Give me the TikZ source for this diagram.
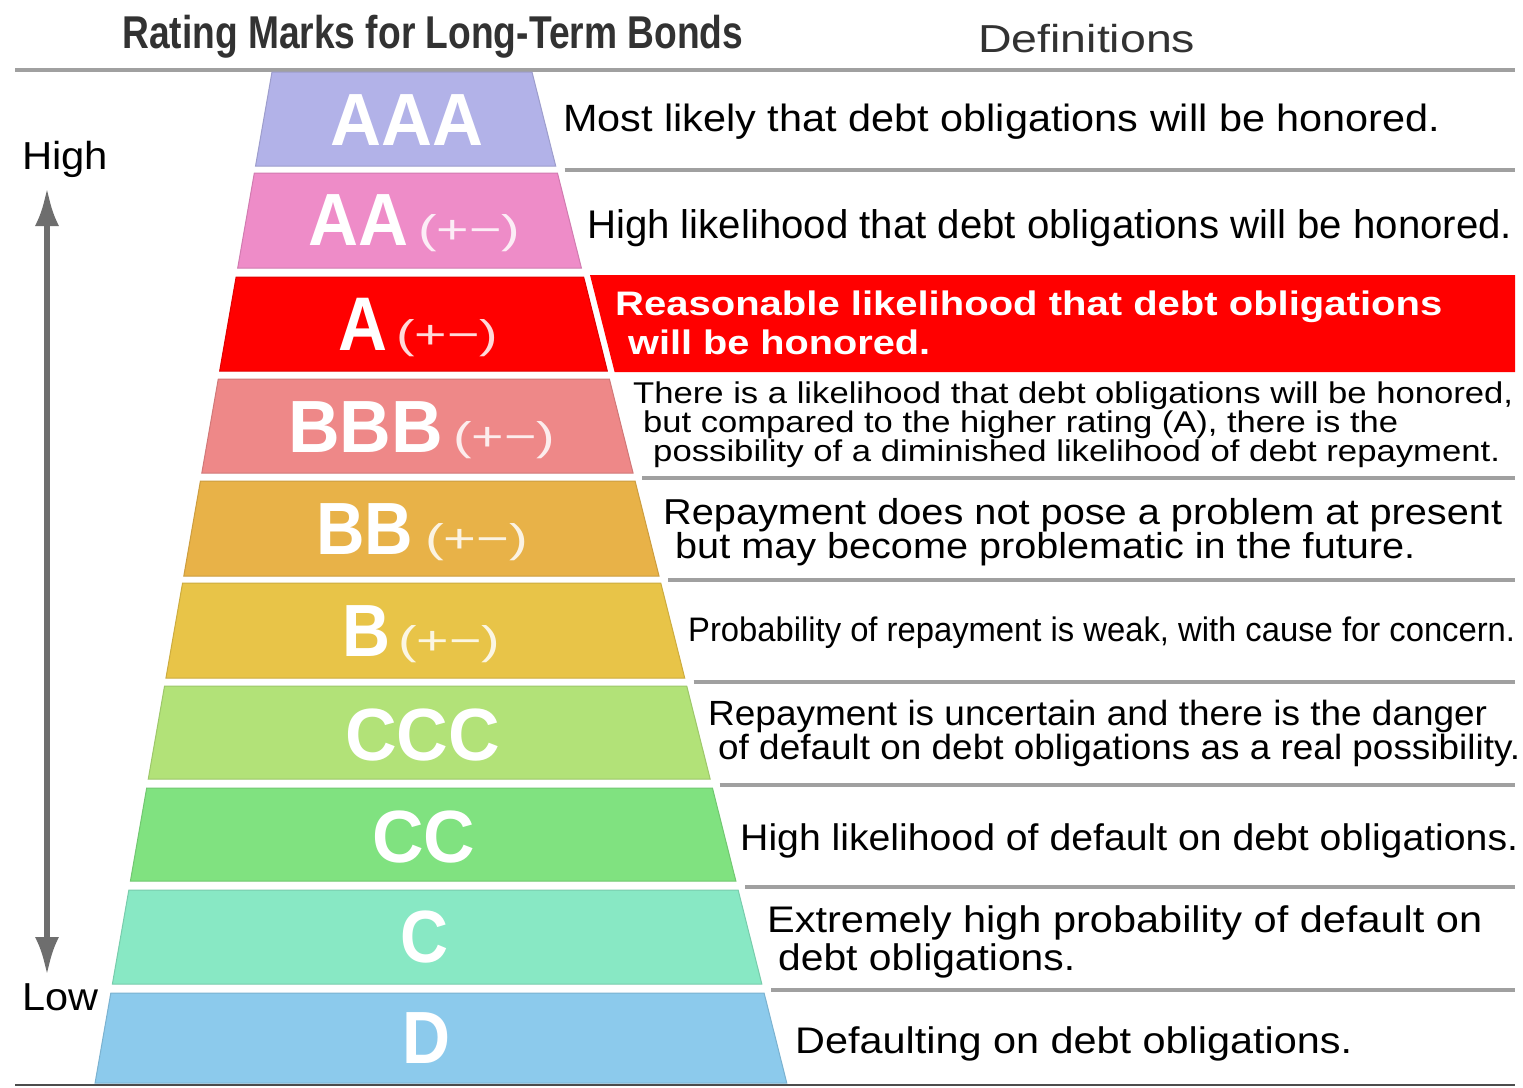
\documentclass[tikz,border=0pt]{standalone}
\usepackage{fontspec}
\setmainfont{Liberation Sans}
\usepackage{graphicx}
\usetikzlibrary{arrows.meta}
\newsavebox\fitbox
\makeatletter
\newcommand\fitto[2]{\sbox\fitbox{#2}\scalebox{\fpeval{#1/\strip@pt\wd\fitbox}}[1]{\usebox\fitbox}}
\makeatother
\newcommand\fs[1]{\fontsize{#1}{#1}\selectfont}
\definecolor{sepgray}{RGB}{160,160,160}
\definecolor{cAAA}{RGB}{178,178,232}
\definecolor{cAA}{RGB}{238,140,200}
\definecolor{cA}{RGB}{255,0,0}
\definecolor{cBBB}{RGB}{238,136,136}
\definecolor{cBB}{RGB}{232,178,72}
\definecolor{cB}{RGB}{232,196,72}
\definecolor{cCCC}{RGB}{178,226,120}
\definecolor{cCC}{RGB}{128,226,128}
\definecolor{cC}{RGB}{136,232,196}
\definecolor{cD}{RGB}{140,202,236}
\definecolor{headgray}{RGB}{50,50,50}
\definecolor{arrowgray}{RGB}{110,110,110}
\tikzset{
  deftext/.style={anchor=base west, inner sep=0pt, text=black},
  redtext/.style={anchor=base west, inner sep=0pt, text=white, font=\bfseries},
  ratetext/.style={anchor=base west, inner sep=0pt, text=white, font=\bfseries},
  pmtext/.style={anchor=base west, inner sep=0pt, text=white, text opacity=0.85},
  sepline/.style={line width=4pt, draw=sepgray},
  sideline/.style={anchor=base west, inner sep=0pt, text=black},
}
\newcommand\band[3]{%
  \pgfmathsetmacro\xlt{272-0.175*(#1-72)}%
  \pgfmathsetmacro\xlb{272-0.175*(#2-72)}%
  \pgfmathsetmacro\xrt{532+0.252*(#1-72)}%
  \pgfmathsetmacro\xrb{532+0.252*(#2-72)}%
  \filldraw[fill=#3, draw=#3!88!black, line width=1pt] (\xlt,#1) -- (\xrt,#1) -- (\xrb,#2) -- (\xlb,#2) -- cycle;}
\newcommand\sepat[1]{%
  \pgfmathsetmacro\xs{532+0.252*(#1-72)+8}%
  \draw[sepline] (\xs,#1) -- (1515,#1);}
\begin{document}
\begin{tikzpicture}[x=1pt,y=-1pt]
\useasboundingbox (0,0) rectangle (1523,1087);
\fill[white] (0,0) rectangle (1523,1087);

% header
\node[anchor=base west, inner sep=0pt, text=headgray, font=\bfseries] (head) at (122,48)
  {\fitto{621}{\fs{46}Rating Marks for Long-Term Bonds}};
\node[anchor=base west, inner sep=0pt, text=headgray] (defhead) at (978,52)
  {\fitto{217}{\fs{39}Definitions}};
\draw[sepline] (15,70) -- (1515,70);
\draw[line width=2pt, draw=black!70] (15,1085) -- (1515,1085);

% separator lines
\sepat{170}
\sepat{478}
\sepat{580}
\sepat{682}
\sepat{785}
\sepat{887}
\sepat{990}

% pyramid
\band{72}{166}{cAAA}
\band{173}{268}{cAA}
\band{277}{371}{cA}
\band{379}{473}{cBBB}
\band{481}{576}{cBB}
\band{583}{678}{cB}
\band{686}{779}{cCCC}
\band{788}{881}{cCC}
\band{890}{984}{cC}
\band{993}{1083}{cD}

% red definition box
\fill[cA] (590,275) -- (1515,275) -- (1515,372) -- (614.6,372) -- cycle;

% rating labels
\node[ratetext] (rAAA) at (330,145) {\fitto{153}{\fs{74}AAA}};
\node[ratetext] (rAA) at (308,245) {\fitto{100}{\fs{74}AA}};
\node[pmtext] (pAA) at (418,243) {\fitto{102}{\fs{40}(+−)}};
\node[ratetext] (rA) at (338,350) {\fitto{49}{\fs{76}A}};
\node[pmtext] (pA) at (396,348) {\fitto{102}{\fs{40}(+−)}};
\node[ratetext] (rBBB) at (288,452) {\fitto{155}{\fs{74}BBB}};
\node[pmtext] (pBBB) at (453,450) {\fitto{102}{\fs{40}(+−)}};
\node[ratetext] (rBB) at (316,554) {\fitto{97}{\fs{74}BB}};
\node[pmtext] (pBB) at (425,552) {\fitto{103}{\fs{40}(+−)}};
\node[ratetext] (rB) at (342,656) {\fitto{48}{\fs{74}B}};
\node[pmtext] (pB) at (398,654) {\fitto{102}{\fs{40}(+−)}};
\node[ratetext] (rCCC) at (345,760) {\fitto{155}{\fs{74}CCC}};
\node[ratetext] (rCC) at (372,862) {\fitto{103}{\fs{74}CC}};
\node[ratetext] (rC) at (400,962) {\fitto{48}{\fs{74}C}};
\node[ratetext] (rD) at (402,1063) {\fitto{48}{\fs{74}D}};

% definitions
\node[deftext] (d1) at (563,131) {\fitto{877}{\fs{38}Most likely that debt obligations will be honored.}};
\node[deftext] (d2) at (587,238) {\fitto{925}{\fs{40}High likelihood that debt obligations will be honored.}};
\node[redtext] (d3a) at (615,315) {\fitto{827}{\fs{34}Reasonable likelihood that debt obligations}};
\node[redtext] (d3b) at (628,354) {\fitto{302}{\fs{34}will be honored.}};
\node[deftext] (d4a) at (633,403) {\fitto{880}{\fs{30}There is a likelihood that debt obligations will be honored,}};
\node[deftext] (d4b) at (643,432) {\fitto{755}{\fs{30}but compared to the higher rating (A), there is the}};
\node[deftext] (d4c) at (653,461) {\fitto{847}{\fs{30}possibility of a diminished likelihood of debt repayment.}};
\node[deftext] (d5a) at (663,524) {\fitto{839}{\fs{36}Repayment does not pose a problem at present}};
\node[deftext] (d5b) at (675,558) {\fitto{740}{\fs{36}but may become problematic in the future.}};
\node[deftext] (d6) at (688,641) {\fitto{827}{\fs{34}Probability of repayment is weak, with cause for concern.}};
\node[deftext] (d7a) at (708,725) {\fitto{779}{\fs{35}Repayment is uncertain and there is the danger}};
\node[deftext] (d7b) at (718,759) {\fitto{802}{\fs{35}of default on debt obligations as a real possibility.}};
\node[deftext] (d8) at (740,850) {\fitto{778}{\fs{37}High likelihood of default on debt obligations.}};
\node[deftext] (d9a) at (767,932) {\fitto{715}{\fs{37}Extremely high probability of default on}};
\node[deftext] (d9b) at (778,970) {\fitto{297}{\fs{37}debt obligations.}};
\node[deftext] (d10) at (795,1053) {\fitto{557}{\fs{37}Defaulting on debt obligations.}};

% high / low scale
\node[sideline] (high) at (22,169) {\fitto{86}{\fs{39}High}};
\node[sideline] (low) at (22,1010) {\fitto{76}{\fs{39}Low}};
\coordinate (atop) at (47,188);
\coordinate (abot) at (47,975);
\draw[arrowgray, line width=6pt, {Latex[length=38pt,width=24pt]}-{Latex[length=38pt,width=24pt]}] (atop) -- (abot);
\end{tikzpicture}
\end{document}
